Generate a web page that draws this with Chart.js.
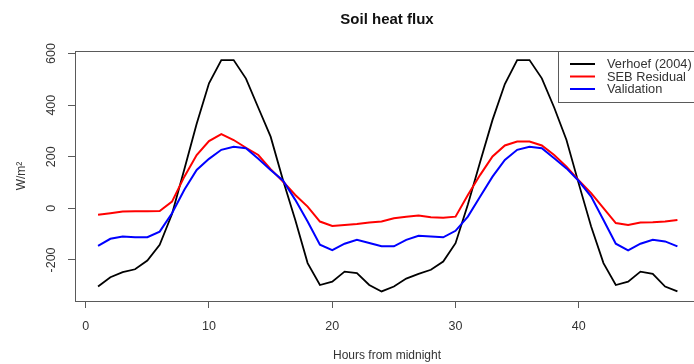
<!DOCTYPE html>
<html>
<head>
<meta charset="utf-8">
<script src="https://cdn.jsdelivr.net/npm/chart.js@4.4.1/dist/chart.umd.min.js"></script>
<style>
  html, body { margin: 0; padding: 0; background: #fff; overflow: hidden; }
  #wrap { width: 694px; height: 364px; overflow: hidden; }
  canvas { display: block; }
</style>
</head>
<body>
<div id="wrap"><canvas id="fluxChart" width="702" height="364"></canvas></div>
<script>
// --- data ---
const hours = [1, 2, 3, 4, 5, 6, 7, 8, 9, 10, 11, 12, 13, 14, 15, 16, 17, 18, 19, 20, 21, 22, 23, 24,
               25, 26, 27, 28, 29, 30, 31, 32, 33, 34, 35, 36, 37, 38, 39, 40, 41, 42, 43, 44, 45, 46, 47, 48];
const verhoef = [-303, -267, -247, -236, -202, -141, -22, 152, 328, 485, 575, 575, 503, 390, 278, 110, -45, -212, -297, -284, -245, -251, -297, -322,
                 -303, -272, -254, -238, -206, -135, 15, 181, 343, 482, 575, 575, 504, 391, 265, 95, -70, -212, -297, -284, -245, -254, -303, -322];
const sebResidual = [-25, -19, -12, -11, -11, -10, 26, 123, 207, 261, 288, 265, 235, 207, 152, 104, 52, 7, -51, -68, -64, -61, -55, -51,
                     -38, -32, -28, -34, -36, -32, 52, 130, 201, 244, 259, 259, 244, 207, 162, 108, 59, 1, -57, -64, -55, -54, -51, -45];
const validation = [-145, -118, -109, -112, -112, -90, -19, 72, 149, 192, 227, 239, 233, 192, 149, 108, 33, -51, -141, -162, -137, -122, -134, -147,
                    -147, -122, -106, -109, -112, -87, -32, 46, 123, 188, 227, 239, 233, 194, 155, 106, 46, -45, -137, -163, -137, -122, -128, -147];
const seriesNames = ['Verhoef (2004)', 'SEB Residual', 'Validation'];
const xTicks = [0, 10, 20, 30, 40];
const yTicks = [-200, 0, 200, 400, 600];

const FONT = "'Liberation Sans', Arial, sans-serif";
const AXIS_GREY = '#5a5a5a';
const TEXT_COLOR = '#333';

function toPoints(values) {
    return hours.map((h, i) => ({ x: h, y: values[i] }));
}

// R style extras: plot box, rotated y labels, legend box
const rPlotStyle = {
    id: 'rPlotStyle',
    afterDraw(chart) {
        const { ctx, chartArea: a, scales: { y } } = chart;
        ctx.save();
        ctx.strokeStyle = AXIS_GREY;
        ctx.lineWidth = 1;
        ctx.strokeRect(Math.round(a.left) + 0.5, Math.round(a.top) + 0.5,
                       Math.round(a.right - a.left), Math.round(a.bottom - a.top));

        // y tick labels read bottom-to-top
        ctx.fillStyle = TEXT_COLOR;
        ctx.font = '12.5px ' + FONT;
        ctx.textAlign = 'center';
        ctx.textBaseline = 'middle';
        y.ticks.forEach(t => {
            ctx.save();
            ctx.translate(52, y.getPixelForValue(t.value));
            ctx.rotate(-Math.PI / 2);
            ctx.fillText(String(t.value), 0, 0);
            ctx.restore();
        });

        // legend
        ctx.strokeStyle = AXIS_GREY;
        ctx.strokeRect(558.5, Math.round(a.top) + 0.5, 200, 51);
        ctx.font = '12.8px ' + FONT;
        ctx.textAlign = 'left';
        chart.data.datasets.forEach((ds, i) => {
            const ly = 64 + i * 12.5;
            ctx.strokeStyle = ds.borderColor;
            ctx.lineWidth = 2;
            ctx.beginPath();
            ctx.moveTo(570, ly);
            ctx.lineTo(595, ly);
            ctx.stroke();
            ctx.fillStyle = TEXT_COLOR;
            ctx.fillText(ds.label, 607, ly + 0.5);
        });
        ctx.restore();
    }
};

const ctx = document.getElementById('fluxChart').getContext('2d');
const fluxChart = new Chart(ctx, {
    type: 'line',
    data: {
        datasets: [{
            label: seriesNames[0],
            data: toPoints(verhoef),
            borderColor: '#000000',
            borderWidth: 1.8,
            order: 2
        }, {
            label: seriesNames[1],
            data: toPoints(sebResidual),
            borderColor: '#ff0000',
            borderWidth: 2,
            order: 1
        }, {
            label: seriesNames[2],
            data: toPoints(validation),
            borderColor: '#0000ff',
            borderWidth: 2,
            order: 0
        }]
    },
    options: {
        responsive: false,
        animation: false,
        devicePixelRatio: 1,
        layout: { padding: { left: 0, right: 3, top: 0, bottom: 0 } },
        elements: {
            point: { radius: 0 },
            line: { tension: 0, fill: false }
        },
        plugins: {
            legend: { display: false },
            tooltip: { enabled: false },
            title: {
                display: true,
                text: 'Soil heat flux',
                fullSize: false,
                color: '#111',
                font: { family: FONT, size: 15, weight: 'bold' },
                padding: { top: 11, bottom: 22 }
            }
        },
        scales: {
            x: {
                type: 'linear',
                min: -0.87,
                max: 49.75,
                afterBuildTicks: s => { s.ticks = xTicks.map(v => ({ value: v })); },
                afterFit: s => { s.height = 63; },
                border: { display: false },
                grid: { drawOnChartArea: false, drawTicks: true, tickLength: 7, color: AXIS_GREY },
                ticks: { color: TEXT_COLOR, font: { family: FONT, size: 12.5 }, padding: 11, maxRotation: 0 },
                title: {
                    display: true,
                    text: 'Hours from midnight',
                    color: TEXT_COLOR,
                    font: { family: FONT, size: 12 },
                    padding: { top: 0, bottom: 1 }
                }
            },
            y: {
                min: -359,
                max: 610,
                afterBuildTicks: s => { s.ticks = yTicks.map(v => ({ value: v })); },
                afterFit: s => { s.width = 75; },
                border: { display: false },
                grid: { drawOnChartArea: false, drawTicks: true, tickLength: 7, color: AXIS_GREY },
                ticks: { display: false },
                title: {
                    display: true,
                    text: 'W/m²',
                    color: TEXT_COLOR,
                    font: { family: FONT, size: 12 },
                    padding: { top: 14, bottom: 0 }
                }
            }
        }
    },
    plugins: [rPlotStyle]
});
</script>
</body>
</html>
